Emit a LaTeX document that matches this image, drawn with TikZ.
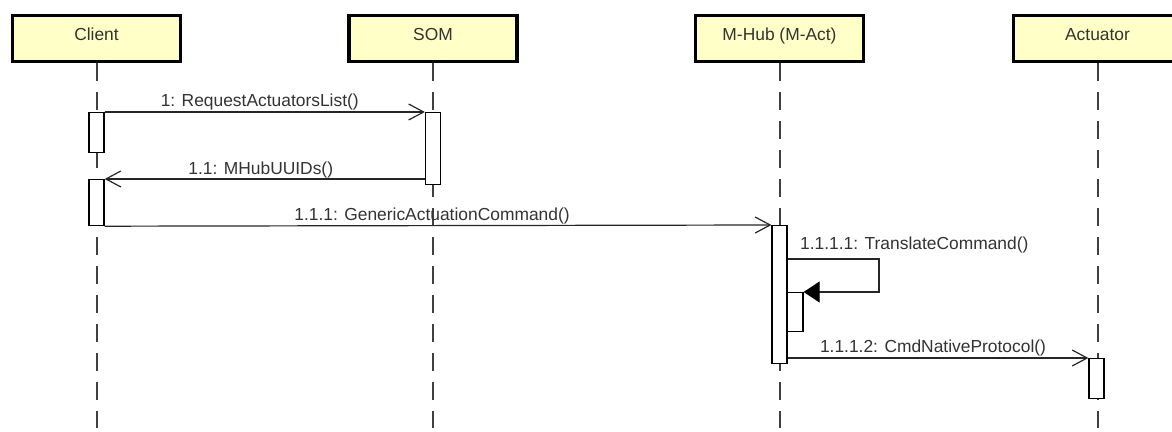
\documentclass[tikz,border=0pt]{standalone}
\usepackage{fontspec}
\setmainfont{Liberation Sans}
\usetikzlibrary{arrows.meta}

\definecolor{headfill}{RGB}{255,255,200}
\definecolor{ink}{RGB}{51,51,51}

\tikzstyle{head}=[rectangle,draw=black,line width=1.6pt,fill=headfill,minimum width=84pt,minimum height=23pt,inner sep=0pt,text height=6.3pt,text depth=4pt,text=ink,font=\fontsize{8.7pt}{10pt}\selectfont]
\tikzstyle{actbar}=[rectangle,draw=black,line width=0.6pt,fill=white,minimum width=7.5pt,inner sep=0pt,anchor=north]
\tikzstyle{lifeline}=[draw,black!75,line width=1pt,dash pattern=on 9pt off 5.5pt]
\tikzstyle{msg}=[draw,black!85,line width=0.6pt,-{Straight Barb[length=7.5pt,width=8pt,line width=0.6pt]}]
\tikzstyle{selfmsg}=[draw,black!85,line width=0.6pt,-{Triangle[length=8pt,width=10.5pt,fill=black,color=black]}]
\tikzstyle{lbl}=[text=ink,inner sep=0pt,font=\fontsize{8.7pt}{10pt}\selectfont]

\begin{document}
\begin{tikzpicture}[x=0.5pt,y=-0.5pt]
			\useasboundingbox (0,0) rectangle (1172,432);
			% lifeline heads
			\node[head] (client) at (96.5,38.5) {Client};
			\node[head] (som) at (433,38.5) {SOM};
			\node[head] (mhub) at (779.5,38.5) {M-Hub (M-Act)};
			\node[head] (act) at (1097.5,38.5) {Actuator};
			\coordinate (bottom) at (0,428);
			% dashed lifelines
			\foreach \who in {client,som,mhub,act}
				\path[lifeline] (\who.south) -- (\who.south |- bottom);
			% activation bars
			\node[actbar,minimum height=20pt] (cbar1) at (96.5,112) {};
			\node[actbar,minimum height=36pt] (sbar) at (433,112) {};
			\node[actbar,minimum height=23pt] (cbar2) at (96.5,179) {};
			\node[actbar,minimum height=69pt] (mbar) at (779.5,225) {};
			\node[actbar,minimum height=19.5pt,minimum width=8pt] (nbar) at (795,292) {};
			\node[actbar,minimum height=20pt] (abar) at (1096.5,358) {};
			\coordinate (loop) at (879,259);
			% messages
			\path[msg] (cbar1.north east) -- (sbar.north west)
				node[lbl,pos=0.5,anchor=base,xshift=-2.5pt,yshift=2.5pt] {1: RequestActuatorsList()};
			\path[msg] (sbar.west |- cbar2.north) -- (cbar2.north east)
				node[lbl,pos=0.5,anchor=base,xshift=-2pt,yshift=2pt] {1.1: MHubUUIDs()};
			\path[msg] (cbar2.south east) -- (mbar.north west)
				node[lbl,pos=0.5,anchor=base,xshift=-3pt,yshift=2.5pt] {1.1.1: GenericActuationCommand()};
			\path[selfmsg] (mbar.east |- loop)
				node[lbl,anchor=base west,xshift=6pt,yshift=4.5pt] {1.1.1.1: TranslateCommand()}
				-- (loop) |- (nbar.north east);
			\path[msg] (mbar.east |- abar.north) -- (abar.north west)
				node[lbl,pos=0.5,anchor=base,xshift=-2.5pt,yshift=2.5pt] {1.1.1.2: CmdNativeProtocol()};
		\end{tikzpicture}
\end{document}
